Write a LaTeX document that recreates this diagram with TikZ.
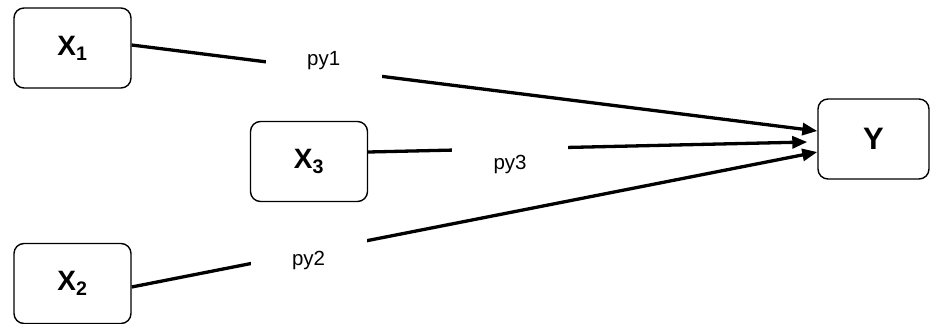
\documentclass[tikz,border=0pt]{standalone}
\usepackage{fontspec}
\setmainfont{Liberation Sans}
\usetikzlibrary{arrows.meta}
\newcommand*{\boxWidth}{117}
\newcommand*{\boxHeight}{80}
\newcommand*{\gapWidth}{116}

\begin{document}
\begin{tikzpicture}[x=1pt,y=-1pt,
	varbox/.style={draw,line width=1.4pt,rounded corners=10pt,minimum width=\boxWidth pt,minimum height=\boxHeight pt,inner sep=0pt,font=\fontsize{28}{30}\selectfont\bfseries},
	pathline/.style={line width=3.3pt,-{Triangle[length=15pt,width=12pt]}},
	pathlabel/.style={fill=white,minimum width=\gapWidth pt,minimum height=46pt,inner sep=0pt,font=\fontsize{20.5}{23}\selectfont}]
	\useasboundingbox (0,0) rectangle (930,324);

	% variables
	\node [varbox] (x1) at (72.5,48) {X\textsubscript{1}};
	\node [varbox] (x3) at (309,161.5) {X\textsubscript{3}};
	\node [varbox] (x2) at (72.5,283.5) {X\textsubscript{2}};
	\node [varbox,minimum width=111pt,font=\fontsize{31}{33}\selectfont\bfseries] (y) at (873.5,139) {Y};

	% paths
	\draw [pathline] ([yshift=3pt]x1.east) -- node [pathlabel,pos=0.28,yshift=9pt] (py1) {py1} ([yshift=8pt]y.west);
	\draw [pathline] ([yshift=9.5pt]x3.east) -- node [pathlabel,pos=0.323,yshift=-16pt] (py3) {py3} ([xshift=-10pt,yshift=-3pt]y.west);
	\draw [pathline] ([yshift=-3.5pt]x2.east) -- node [pathlabel,pos=0.258,yshift=-8pt] (py2) {py2} ([yshift=-13pt]y.west);

\end{tikzpicture}
\end{document}
